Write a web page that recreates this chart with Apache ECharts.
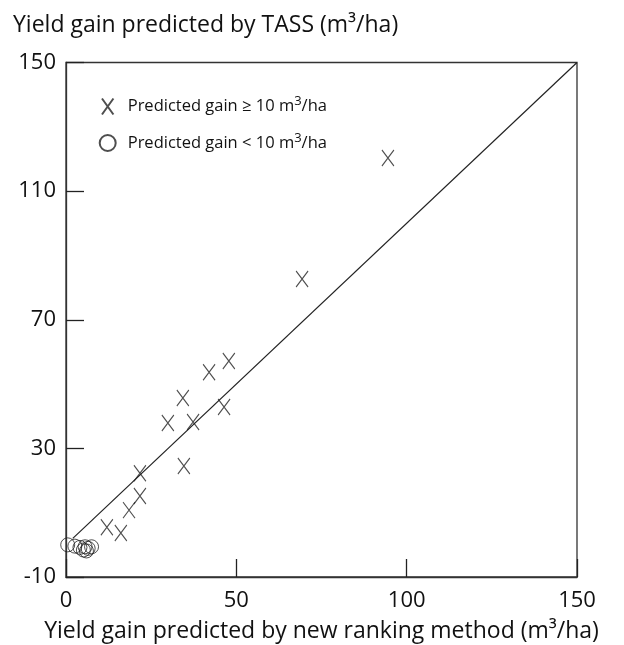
<!DOCTYPE html>
<html><head><meta charset="utf-8">
<script src="https://cdn.jsdelivr.net/npm/echarts@6/dist/echarts.min.js"></script>
<style>html,body{margin:0;padding:0;background:#fff}#c{width:624px;height:645px}</style>
</head><body><div id="c"></div>
<script>
// Points with predicted gain >= 10 (X markers)
const hiX = [94.5, 69.3, 47.8, 42.0, 34.3, 46.4, 29.9, 37.3, 34.6, 21.7, 21.7, 18.5, 12.0, 16.1];
const hiY = [120.3, 82.7, 57.2, 53.7, 45.7, 42.9, 37.9, 38.2, 24.5, 22.3, 15.2, 10.8, 5.5, 3.7];
// Points with predicted gain < 10 (circles)
const loX = [0.5, 2.6, 4.1, 5.1, 5.6, 6.5, 7.5, 6.0];
const loY = [0.0, -0.4, -0.8, -1.6, -0.6, -1.1, -0.6, -1.9];
// 1:1 reference line
const lineX = [2, 150];
const lineY = [2, 150];
const xTicks = [0, 50, 100, 150];
const yTicks = [-10, 30, 70, 110, 150];

const FONT = 'Open Sans';
const zip = (a, b) => a.map((v, i) => [v, b[i]]);
const chart = echarts.init(document.getElementById('c'));
chart.setOption({
  animation: false,
  textStyle: { fontFamily: FONT, color: '#111' },
  title: {
    text: 'Yield gain predicted by TASS (m³/ha)',
    left: 8, top: 9,
    textStyle: { fontFamily: FONT, fontSize: 23, fontWeight: 'normal', color: '#111' }
  },
  grid: {
    left: 66, right: 47, top: 62.5, bottom: 68,
    outerBoundsMode: 'none',
    show: true, borderColor: '#333', borderWidth: 1.3, containLabel: false
  },
  legend: {
    orient: 'vertical', left: 93.7, top: 90, itemGap: 16,
    itemWidth: 30, itemHeight: 16,
    data: ['hi', 'lo'],
    formatter: n => n === 'hi' ? 'Predicted gain \u2265 10 m{s|3}/ha' : 'Predicted gain < 10 m{s|3}/ha',
    textStyle: {
      fontFamily: FONT, fontSize: 16.5, color: '#111',
      rich: { s: { fontFamily: FONT, fontSize: 13, padding: [0, 0, 10, 0], color: '#111' } }
    }
  },
  xAxis: {
    type: 'value', min: xTicks[0], max: xTicks[xTicks.length - 1], interval: 50,
    name: 'Yield gain predicted by new ranking method (m³/ha)',
    nameLocation: 'middle', nameGap: 43,
    nameTextStyle: { fontFamily: FONT, fontSize: 23, color: '#111' },
    axisLine: { show: true, onZero: false, lineStyle: { color: '#333', width: 1.3 } },
    axisTick: { inside: true, length: 18, lineStyle: { color: '#222', width: 1.3 } },
    axisLabel: { fontFamily: FONT, fontSize: 22, color: '#111', margin: 13 },
    splitLine: { show: false }
  },
  yAxis: {
    type: 'value', min: yTicks[0], max: yTicks[yTicks.length - 1], interval: 40,
    axisLine: { show: true, onZero: false, lineStyle: { color: '#333', width: 1.3 } },
    axisTick: { inside: true, length: 18, lineStyle: { color: '#222', width: 1.3 } },
    axisLabel: { fontFamily: FONT, fontSize: 22, color: '#111', margin: 10 },
    splitLine: { show: false }
  },
  series: [
    {
      type: 'line', data: zip(lineX, lineY), symbol: 'none', silent: true,
      lineStyle: { color: '#222', width: 1.2 }, z: 1
    },
    {
      name: 'hi', type: 'scatter', data: zip(hiX, hiY),
      symbol: 'path://M0,0L10,14M10,0L0,14', symbolSize: [12, 16],
      itemStyle: { color: 'rgba(0,0,0,0)', borderColor: '#222', borderWidth: 1.2 }, z: 3
    },
    {
      name: 'lo', type: 'scatter', data: zip(loX, loY),
      symbol: 'circle', symbolSize: 14,
      itemStyle: { color: 'rgba(0,0,0,0)', borderColor: '#222', borderWidth: 1 }, z: 3
    }
  ]
});
</script></body></html>
